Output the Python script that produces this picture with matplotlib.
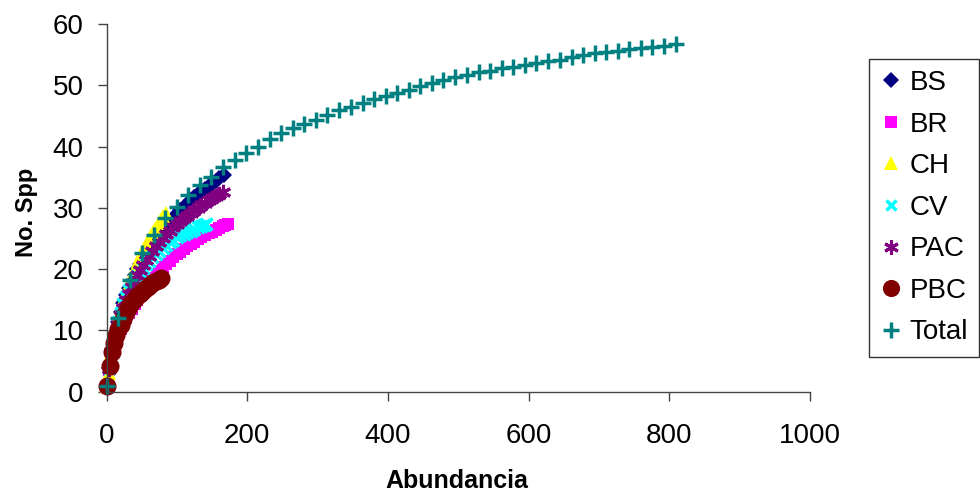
import matplotlib
matplotlib.use("Agg")
import matplotlib.pyplot as plt

plt.rcParams['font.family'] = ['Liberation Sans', 'DejaVu Sans']

# ---- data ----
bs_x = [1, 4, 8, 12, 16, 20, 24, 28, 32, 36, 40, 44, 48, 52, 56, 60, 64, 68, 72, 76, 80, 85, 90, 95, 100,
        105, 110, 115, 120, 125, 130, 135, 140, 145, 150, 155, 160, 167]
bs_y = [1, 3.9, 6.9, 9.3, 11.4, 13.0, 14.5, 15.8, 16.9, 18.1, 19.1, 20.0, 20.9, 21.7, 22.5, 23.2, 23.9, 24.6, 25.3, 25.9, 26.5, 27.2, 27.8, 28.4, 29.0,
        29.6, 30.2, 30.7, 31.2, 31.7, 32.2, 32.6, 33.0, 33.5, 33.9, 34.3, 34.8, 35.3]

br_x = [1, 4, 8, 12, 16, 20, 24, 28, 32, 36, 40, 44, 48, 52, 56, 60, 64, 68, 72, 76, 80, 85, 90, 95, 100,
        105, 110, 115, 120, 125, 130, 135, 140, 145, 150, 155, 160, 165, 169, 172]
br_y = [1, 3.6, 6.1, 8.0, 9.3, 10.3, 11.2, 12.0, 12.8, 13.5, 14.3, 14.9, 15.6, 16.2, 16.8, 17.5, 18.0, 18.6, 19.2, 19.7, 20.3, 20.8, 21.4, 21.9, 22.4,
        22.8, 23.3, 23.7, 24.1, 24.5, 24.9, 25.2, 25.6, 25.9, 26.1, 26.4, 26.7, 27.0, 27.2, 27.4]

ch_x = [1, 3, 5, 7, 9, 11, 13, 15, 18, 21, 24, 27, 30, 33, 36, 39, 42, 45, 48, 51, 54, 57, 60, 63, 66,
        69, 72, 75, 78, 81, 85]
ch_y = [1, 3.0, 4.7, 6.3, 7.8, 9.0, 10.2, 11.2, 12.6, 13.8, 14.9, 16.0, 17.0, 17.9, 18.8, 19.7, 20.5, 21.3, 22.1, 22.8, 23.5, 24.2, 24.9, 25.5, 26.1,
        26.6, 27.1, 27.6, 28.1, 28.6, 29.2]

cv_x = [1, 4, 8, 12, 16, 20, 24, 28, 32, 36, 40, 44, 48, 52, 56, 60, 65, 70, 75, 80, 85, 90, 95, 100,
        105, 110, 115, 120, 125, 130, 135, 139, 142]
cv_y = [1, 3.9, 6.9, 9.2, 11.3, 12.9, 14.3, 15.5, 16.6, 17.4, 18.2, 18.9, 19.6, 20.2, 20.8, 21.3, 21.9, 22.5, 23.0, 23.5, 24.0, 24.4, 24.8, 25.2,
        25.5, 25.7, 26.0, 26.3, 26.6, 26.8, 27.0, 27.2, 27.4]

pac_x = [1, 4, 8, 12, 16, 20, 24, 28, 32, 36, 40, 44, 48, 52, 56, 60, 65, 70, 75, 80, 85, 90, 95, 100,
         105, 110, 115, 120, 125, 130, 135, 140, 145, 150, 155, 160, 165]
pac_y = [1, 3.7, 6.5, 8.9, 10.9, 12.3, 13.7, 14.9, 16.0, 17.1, 18.1, 19.0, 19.9, 20.7, 21.5, 22.2, 22.9, 23.7, 24.4, 25.0, 25.7, 26.3, 26.8, 27.3,
         27.8, 28.3, 28.7, 29.1, 29.6, 30.0, 30.4, 30.8, 31.2, 31.6, 31.9, 32.3, 32.6]

pbc_x = [1, 5, 8, 11, 14, 17, 20, 23, 26, 29, 32, 35, 38, 41, 44, 47, 50, 53, 56, 59, 62, 65, 68, 71, 74, 77]
pbc_y = [1, 4.2, 6.5, 8.0, 9.3, 10.2, 10.9, 11.8, 12.6, 13.3, 13.9, 14.4, 14.8, 15.2, 15.6, 15.95, 16.3, 16.6, 16.9, 17.1, 17.4, 17.7, 17.9, 18.1, 18.3, 18.5]

tot_x = [1, 17, 34, 50, 67, 83, 100, 116, 133, 149, 166, 182, 199, 215, 232, 248, 265, 281, 298, 314,
         331, 347, 364, 380, 397, 413, 430, 446, 463, 479, 496, 512, 529, 545, 562, 578, 595, 611, 628, 644,
         661, 677, 694, 710, 727, 743, 760, 776, 793, 809]
tot_y = [1, 12.0, 18.3, 22.6, 25.6, 28.4, 30.2, 32.1, 33.7, 35.1, 36.7, 37.8, 38.9, 40.0, 41.2, 42.2, 43.0, 43.7, 44.4, 45.2,
         45.9, 46.4, 47.1, 47.7, 48.3, 48.8, 49.3, 49.9, 50.3, 50.9, 51.3, 51.7, 52.1, 52.4, 52.8, 53.0, 53.3, 53.7, 54.0, 54.2,
         54.6, 54.9, 55.2, 55.4, 55.6, 55.9, 56.1, 56.3, 56.4, 56.7]

labels = ['BS', 'BR', 'CH', 'CV', 'PAC', 'PBC', 'Total']
x_ticks = [0, 200, 400, 600, 800, 1000]
y_ticks = [0, 10, 20, 30, 40, 50, 60]

# ---- figure ----
fig = plt.figure(figsize=(9.8, 4.95), dpi=100)
ax = fig.add_axes([106.5 / 980, 1 - 391.7 / 495, (810 - 106.5) / 980, (391.7 - 24) / 495])

styles = [
    dict(marker='D', color='#000080', ms=8.5, mew=0),
    dict(marker='s', color='#FF00FF', ms=8.5, mew=0),
    dict(marker='^', color='#FFFF00', ms=10, mew=0),
    dict(marker='x', color='#00FFFF', ms=8, mew=2.5),
    dict(marker=(6, 2, 0), color='#800080', ms=11, mew=2.2),
    dict(marker='o', color='#800000', ms=13, mew=0),
    dict(marker='+', color='#008080', ms=12, mew=2.5),
]
series = [(bs_x, bs_y), (br_x, br_y), (ch_x, ch_y), (cv_x, cv_y), (pac_x, pac_y), (pbc_x, pbc_y), (tot_x, tot_y)]

handles = []
for (xs, ys), lab, st in zip(series, labels, styles):
    h, = ax.plot(xs, ys, linestyle='none', marker=st['marker'], markersize=st['ms'],
                 markerfacecolor=st['color'], markeredgecolor=st['color'],
                 markeredgewidth=st['mew'], label=lab, clip_on=False)
    handles.append(h)

ax.set_xlim(0, 1000)
ax.set_ylim(0, 60)
ax.set_xticks(x_ticks)
ax.set_yticks(y_ticks)
ax.set_xticklabels([str(v) for v in x_ticks])
ax.set_yticklabels([str(v) for v in y_ticks])

for s in ['top', 'right']:
    ax.spines[s].set_visible(False)
for s in ['left', 'bottom']:
    ax.spines[s].set_color('#444444')
    ax.spines[s].set_linewidth(1.0)

ax.tick_params(axis='both', direction='out', length=6.5, width=1, color='#444444',
               labelsize=20, labelcolor='black')
ax.tick_params(axis='x', pad=16)
ax.tick_params(axis='y', pad=10)

fig.text(457 / 980, 1 - 481 / 495, 'Abundancia', ha='center', va='center',
         fontsize=18, fontweight='bold')
fig.text(26 / 980, 1 - 212 / 495, 'No. Spp', ha='center', va='center',
         rotation=90, fontsize=17, fontweight='bold')

leg = fig.legend(handles=handles, labels=labels, loc='upper left',
                 bbox_to_anchor=(869 / 980, 1 - 59 / 495), fontsize=20,
                 frameon=True, fancybox=False, edgecolor='#333333', framealpha=1,
                 borderpad=0.4, labelspacing=0.56, handlelength=0.8, handletextpad=0.25,
                 borderaxespad=0, markerscale=0.95)
leg.get_frame().set_linewidth(1.0)

fig.savefig('out.png', dpi=100)
